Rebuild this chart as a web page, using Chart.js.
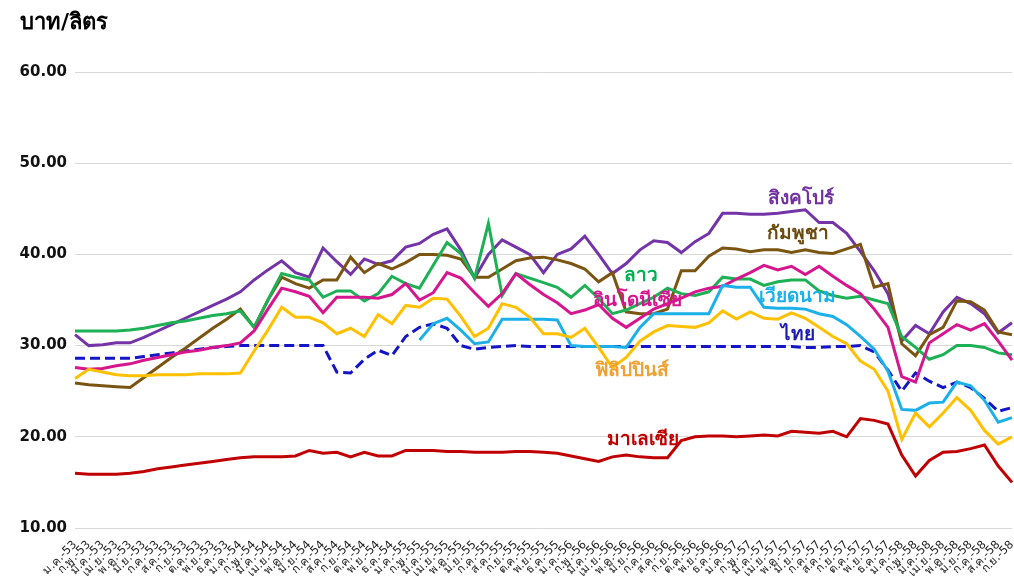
<!DOCTYPE html>
<html>
<head>
<meta charset="utf-8">
<script src="https://cdn.jsdelivr.net/npm/chart.js@4.4.1/dist/chart.umd.min.js"></script>
<style>
  html, body { margin: 0; padding: 0; background: #fff; }
  #wrap { width: 1014px; height: 588px; position: relative; }
</style>
</head>
<body>
<div id="wrap"><canvas id="dieselChart"></canvas></div>
<script>
// months Jan 2010 (B.E. 2553) .. Sep 2015 (B.E. 2558)
const monthNames = ["ม.ค.", "ก.พ.", "มี.ค.", "เม.ย.", "พ.ค.", "มิ.ย.", "ก.ค.", "ส.ค.", "ก.ย.", "ต.ค.", "พ.ย.", "ธ.ค."];
const years = ["53", "54", "55", "56", "57", "58"];
const lastMonthOfLastYear = 9;

const singapore = [31.2, 30.0, 30.1, 30.3, 30.3, 30.9, 31.6, 32.3, 33.0, 33.7, 34.4, 35.1,
  35.9, 37.2, 38.3, 39.3, 38.0, 37.5, 40.7, 39.2, 37.8, 39.5, 38.9, 39.3,
  40.8, 41.2, 42.2, 42.8, 40.5, 37.4, 40.0, 41.6, 40.8, 40.0, 38.0, 40.0,
  40.6, 42.0, 40.0, 37.9, 39.0, 40.5, 41.5, 41.3, 40.2, 41.4, 42.3, 44.5,
  44.5, 44.4, 44.4, 44.5, 44.7, 44.9, 43.5, 43.5, 42.3, 40.3, 38.2, 35.7,
  30.5, 32.2, 31.3, 33.7, 35.3, 34.6, 33.5, 31.4, 32.5];

const cambodia = [25.9, 25.7, 25.6, 25.5, 25.4, 26.5, 27.6, 28.7, 29.7, 30.8, 31.9, 32.9,
  34.0, 32.0, 35.0, 37.5, 36.8, 36.3, 37.2, 37.2, 39.7, 38.0, 39.0, 38.4,
  39.1, 40.0, 40.0, 39.9, 39.5, 37.5, 37.5, 38.4, 39.3, 39.6, 39.7, 39.4,
  39.0, 38.4, 37.0, 38.0, 33.7, 33.5, 33.5, 34.0, 38.2, 38.2, 39.8, 40.7,
  40.6, 40.3, 40.5, 40.5, 40.2, 40.5, 40.2, 40.1, 40.6, 41.1, 36.4, 36.8,
  30.2, 28.9, 31.2, 32.0, 34.9, 34.8, 33.9, 31.5, 31.2];

const laos = [31.6, 31.6, 31.6, 31.6, 31.7, 31.9, 32.2, 32.5, 32.7, 33.0, 33.3, 33.5,
  33.8, 32.0, 35.0, 37.9, 37.5, 37.2, 35.3, 36.0, 36.0, 34.9, 35.7, 37.6,
  36.8, 36.3, 38.8, 41.3, 40.1, 37.4, 43.4, 35.5, 37.9, 37.4, 36.9, 36.4,
  35.3, 36.6, 35.2, 33.5, 33.9, 34.6, 35.3, 36.3, 35.7, 35.5, 35.9, 37.5,
  37.3, 37.3, 36.6, 37.0, 37.2, 37.2, 36.0, 35.5, 35.2, 35.4, 35.0, 34.6,
  31.0, 29.8, 28.5, 29.0, 30.0, 30.0, 29.8, 29.2, 29.0];

const indonesia = [27.6, 27.4, 27.5, 27.8, 28.0, 28.4, 28.7, 29.0, 29.3, 29.5, 29.8, 30.0,
  30.3, 31.6, 34.0, 36.3, 35.9, 35.4, 33.6, 35.3, 35.3, 35.3, 35.2, 35.6,
  36.8, 35.0, 35.8, 38.0, 37.4, 35.8, 34.3, 35.7, 37.9, 36.7, 35.6, 34.7,
  33.5, 33.9, 34.5, 33.0, 32.0, 33.0, 34.0, 34.6, 35.2, 35.9, 36.3, 36.5,
  37.3, 38.0, 38.8, 38.3, 38.7, 37.8, 38.7, 37.6, 36.6, 35.7, 34.0, 32.0,
  26.6, 26.0, 30.3, 31.3, 32.3, 31.7, 32.4, 30.5, 28.4];

const vietnam = [null, null, null, null, null, null, null, null, null, null, null, null,
  null, null, null, null, null, null, null, null, null, null, null, null,
  null, 30.6, 32.4, 33.0, 31.7, 30.2, 30.4, 32.9, 32.9, 32.9, 32.9, 32.8,
  30.0, 29.9, 29.9, 29.9, 29.8, 32.0, 33.5, 33.5, 33.5, 33.5, 33.5, 36.6,
  36.4, 36.4, 34.2, 34.1, 34.1, 34.0, 33.5, 33.2, 32.3, 31.0, 29.6, 27.2,
  23.0, 22.9, 23.7, 23.8, 26.0, 25.6, 24.0, 21.6, 22.1];

const thailand = [28.6, 28.6, 28.6, 28.6, 28.6, 28.8, 29.0, 29.2, 29.4, 29.6, 29.8, 29.9,
  30.0, 30.0, 30.0, 30.0, 30.0, 30.0, 30.0, 27.1, 27.0, 28.5, 29.5, 28.9,
  31.0, 32.0, 32.4, 31.9, 30.0, 29.6, 29.8, 29.9, 30.0, 29.9, 29.9, 29.9,
  29.9, 29.9, 29.9, 29.9, 29.9, 29.9, 29.9, 29.9, 29.9, 29.9, 29.9, 29.9,
  29.9, 29.9, 29.9, 29.9, 29.9, 29.8, 29.8, 29.9, 29.9, 30.0, 29.3, 27.3,
  25.0, 27.0, 26.1, 25.4, 26.0, 25.4, 24.2, 22.8, 23.2];

const philippines = [26.4, 27.4, 27.1, 26.8, 26.7, 26.7, 26.8, 26.8, 26.8, 26.9, 26.9, 26.9,
  27.0, 29.4, 31.7, 34.2, 33.1, 33.1, 32.5, 31.3, 31.9, 31.0, 33.4, 32.4,
  34.4, 34.2, 35.2, 35.1, 33.2, 31.0, 31.9, 34.6, 34.2, 33.1, 31.3, 31.3,
  30.9, 31.9, 29.8, 27.6, 28.7, 30.5, 31.5, 32.2, 32.1, 32.0, 32.5, 33.8,
  32.9, 33.7, 33.0, 32.9, 33.6, 33.0, 32.0, 31.0, 30.2, 28.3, 27.4, 25.0,
  19.7, 22.6, 21.1, 22.6, 24.3, 22.9, 20.7, 19.2, 20.0];

const malaysia = [16.0, 15.9, 15.9, 15.9, 16.0, 16.2, 16.5, 16.7, 16.9, 17.1, 17.3, 17.5,
  17.7, 17.8, 17.8, 17.8, 17.9, 18.5, 18.2, 18.3, 17.8, 18.3, 17.9, 17.9,
  18.5, 18.5, 18.5, 18.4, 18.4, 18.3, 18.3, 18.3, 18.4, 18.4, 18.3, 18.2,
  17.9, 17.6, 17.3, 17.8, 18.0, 17.8, 17.7, 17.7, 19.6, 20.0, 20.1, 20.1,
  20.0, 20.1, 20.2, 20.1, 20.6, 20.5, 20.4, 20.6, 20.0, 22.0, 21.8, 21.4,
  18.0, 15.7, 17.4, 18.3, 18.4, 18.7, 19.1, 16.8, 15.0];

const yTicks = [10, 20, 30, 40, 50, 60];

// in-chart country names: [text, month index, value, colour]
const seriesNames = [
  ["สิงคโปร์", 52.7, 46.1, "#7030A0"],
  ["กัมพูชา", 52.5, 42.2, "#6B4A0E"],
  ["ลาว", 41.1, 37.6, "#00B050"],
  ["อินโดนีเซีย", 40.8, 34.9, "#D6168F"],
  ["เวียดนาม", 52.4, 35.3, "#1CB0E8"],
  ["ไทย", 52.5, 31.2, "#1A1AB0"],
  ["ฟิลิปปินส์", 40.4, 27.2, "#F0A030"],
  ["มาเลเซีย", 41.2, 19.6, "#C00000"]
];

const FONT = "'DejaVu Sans', 'Noto Sans', sans-serif";

const labels = [];
years.forEach((y, i) => {
  const n = i === years.length - 1 ? lastMonthOfLastYear : 12;
  for (let m = 0; m < n; m++) labels.push(monthNames[m] + "-" + y);
});

function line(data, color, extra) {
  return Object.assign({
    data: data,
    borderColor: color,
    backgroundColor: color,
    borderWidth: 3,
    pointRadius: 0,
    tension: 0,
    fill: false
  }, extra || {});
}

const namesPlugin = {
  id: "seriesNames",
  afterDatasetsDraw(chart) {
    const { ctx, scales } = chart;
    ctx.save();
    ctx.font = "bold 19px " + FONT;
    ctx.textAlign = "center";
    ctx.textBaseline = "middle";
    seriesNames.forEach(([text, idx, val, color]) => {
      ctx.fillStyle = color;
      ctx.fillText(text, scales.x.getPixelForValue(idx), scales.y.getPixelForValue(val));
    });
    // unit title
    ctx.fillStyle = "#000";
    ctx.textAlign = "left";
    ctx.font = "bold 22px " + FONT;
    ctx.fillText("บาท/ลิตร", 20, 23);
    ctx.restore();
  }
};

const ctx = document.getElementById("dieselChart").getContext("2d");
new Chart(ctx, {
  type: "line",
  data: {
    labels: labels,
    datasets: [
      line(malaysia, "#C00000"),
      line(philippines, "#FFC000"),
      line(vietnam, "#1CB0E8"),
      line(indonesia, "#D6168F"),
      line(laos, "#1DB055"),
      line(cambodia, "#7A5512"),
      line(singapore, "#7434A8"),
      line(thailand, "#1515C8", { borderDash: [10, 5] })
    ]
  },
  options: {
    responsive: true,
    maintainAspectRatio: false,
    animation: false,
    layout: { padding: { top: 72, right: 2, left: 0, bottom: 0 } },
    plugins: {
      legend: { display: false },
      tooltip: { enabled: false }
    },
    scales: {
      x: {
        offset: false,
        grid: { display: false },
        border: { display: false },
        ticks: {
          autoSkip: false,
          minRotation: 45,
          maxRotation: 45,
          padding: 2,
          color: "#222",
          font: { family: FONT, size: 11.5 }
        },
        afterFit(scale) {
          scale.height = 60;
          scale.paddingLeft = 0;
          scale.paddingRight = 0;
        }
      },
      y: {
        min: 10,
        max: 60,
        border: { display: false },
        grid: { color: "#d9d9d9", lineWidth: 1, drawTicks: false },
        afterBuildTicks(scale) { scale.ticks = yTicks.map(v => ({ value: v })); },
        afterFit(scale) {
          scale.width = 75;
          scale.paddingTop = 0;
          scale.paddingBottom = 0;
        },
        ticks: {
          padding: 8,
          color: "#111",
          font: { family: FONT, size: 15, weight: "bold" },
          callback: v => v.toFixed(2)
        }
      }
    }
  },
  plugins: [namesPlugin]
});
</script>
</body>
</html>
